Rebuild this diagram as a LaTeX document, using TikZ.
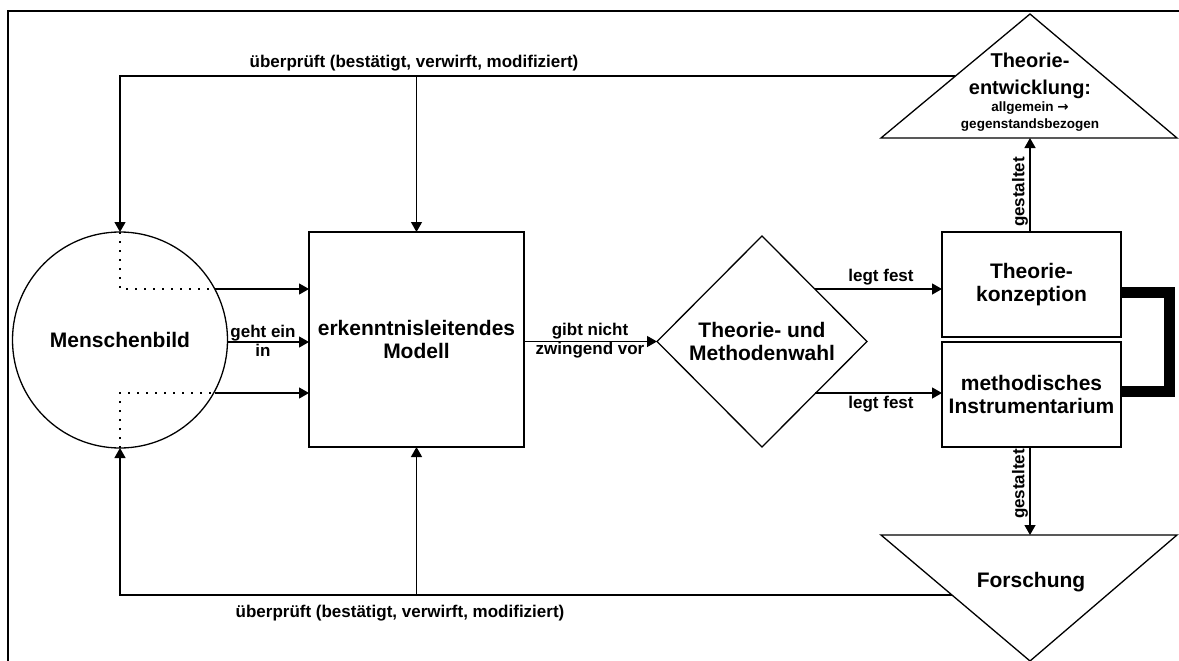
\documentclass[tikz,border=0pt]{standalone}
\usepackage{fontspec}
\setmainfont{Liberation Sans}
\newfontfamily\arrowfont{DejaVu Sans}
\usetikzlibrary{shapes.geometric,arrows.meta}
\begin{document}
\begin{tikzpicture}[x=1pt,y=-1pt,
  big/.style={font=\bfseries\fontsize{21}{23}\selectfont},
  lbl/.style={font=\bfseries\fontsize{17}{19}\selectfont, inner sep=0pt},
  shp/.style={draw, line width=1.3pt, inner sep=0pt, outer sep=0pt},
  arr/.style={line width=1.3pt, -{Triangle[length=10pt,width=11pt]}},
  ln/.style={line width=1.3pt, line join=miter},
  dots/.style={line width=1.8pt, dash pattern=on 1.8pt off 7.2pt},
  bracket/.style={line width=11pt, line join=miter},
]
\useasboundingbox (0,0) rectangle (1179,661);
% frame
\draw[line width=2pt] (8,662) -- (8,11) -- (1180,11);

% main shapes
\node[shp, ellipse, minimum width=215pt, minimum height=216pt, big] (mb) at (120,340) {Menschenbild};
\node[shp, rectangle, minimum width=215pt, minimum height=215pt, big, align=center] (em) at (416.5,339.5) {erkenntnisleitendes\\Modell};
\node[shp, diamond, aspect=1, minimum width=210pt, minimum height=211pt, big, align=center] (tm) at (762,341.5) {Theorie- und\\Methodenwahl};
\node[shp, minimum width=179pt, minimum height=105pt, big, align=center] (tk) at (1031.5,284.5) {Theorie-\\konzeption};
\node[shp, minimum width=179pt, minimum height=105pt, big, align=center] (mi) at (1031.5,394.5) {methodisches\\Instrumentarium};

% triangle: Theorieentwicklung
\coordinate (teA) at (1030,14);
\coordinate (teL) at (881,138);
\coordinate (teR) at (1177,138);
\coordinate (teB) at (1030,138);
\draw[ln] (teA) -- (teL) -- (teR) -- cycle;
\node[font=\bfseries\fontsize{20}{27}\selectfont, align=center] (te) at (1030,75.5) {Theorie-\\entwicklung:};
\node[font=\bfseries\fontsize{13.5}{17}\selectfont, align=center] (tesub) at (1030,116.5) {allgemein {\arrowfont\bfseries →}\\gegenstandsbezogen};

% triangle: Forschung
\coordinate (foL) at (881,535);
\coordinate (foR) at (1177,535);
\coordinate (foA) at (1030,661);
\coordinate (foT) at (1030,535);
\draw[ln] (foL) -- (foR) -- (foA) -- cycle;
\node[big] (fo) at (1031,582) {Forschung};

% top feedback loop
\coordinate (tl) at (955,76);
\draw[arr] (tl) -| (mb.north);
\draw[arr] (em.north |- tl) -- (em.north);
\node[lbl] (lbtop) at (414,63) {überprüft (bestätigt, verwirft, modifiziert)};

% bottom feedback loop
\coordinate (bl) at (952,595);
\draw[arr] (bl) -| (mb.south);
\draw[arr] (em.south |- bl) -- (em.south);
\node[lbl] (lbbot) at (400,613) {überprüft (bestätigt, verwirft, modifiziert)};

% Menschenbild -> Modell
\coordinate (e1) at (215,289);
\coordinate (e3) at (215,393);
\draw[arr] (e1) -- (e1 -| em.west);
\draw[arr] (mb.east |- 0,342) -- (em.west |- 0,342);
\draw[arr] (e3) -- (e3 -| em.west);
\draw[dots] (mb.north) -- (mb.north |- e1) -- (e1);
\draw[dots] (mb.south) -- (mb.south |- e3) -- (e3);
\node[lbl, align=center] (ge) at (263,341) {geht ein\\in};

% Modell -> Wahl
\draw[arr] (em.east |- tm.west) -- (tm.west);
\node[lbl, align=center] (gn) at (590,341) {gibt nicht\\zwingend vor};

% Wahl -> boxes
\coordinate (d1) at (815,289);
\coordinate (d2) at (815,393);
\draw[arr] (d1) -- (d1 -| tk.west);
\draw[arr] (d2) -- (d2 -| mi.west);
\node[lbl] (lf1) at (881,277) {legt fest};
\node[lbl] (lf2) at (881,404) {legt fest};

% gestaltet
\draw[arr] (tk.north -| teB) -- (teB);
\node[lbl, rotate=90] (g1) at (1020,192) {gestaltet};
\draw[arr] (mi.south -| foT) -- (foT);
\node[lbl, rotate=90] (g2) at (1020,484) {gestaltet};

% thick bracket
\draw[bracket] (tk.east |- 0,292) -- (1169,292) -- (1169,391) -- (mi.east |- 0,391);
\end{tikzpicture}
\end{document}
